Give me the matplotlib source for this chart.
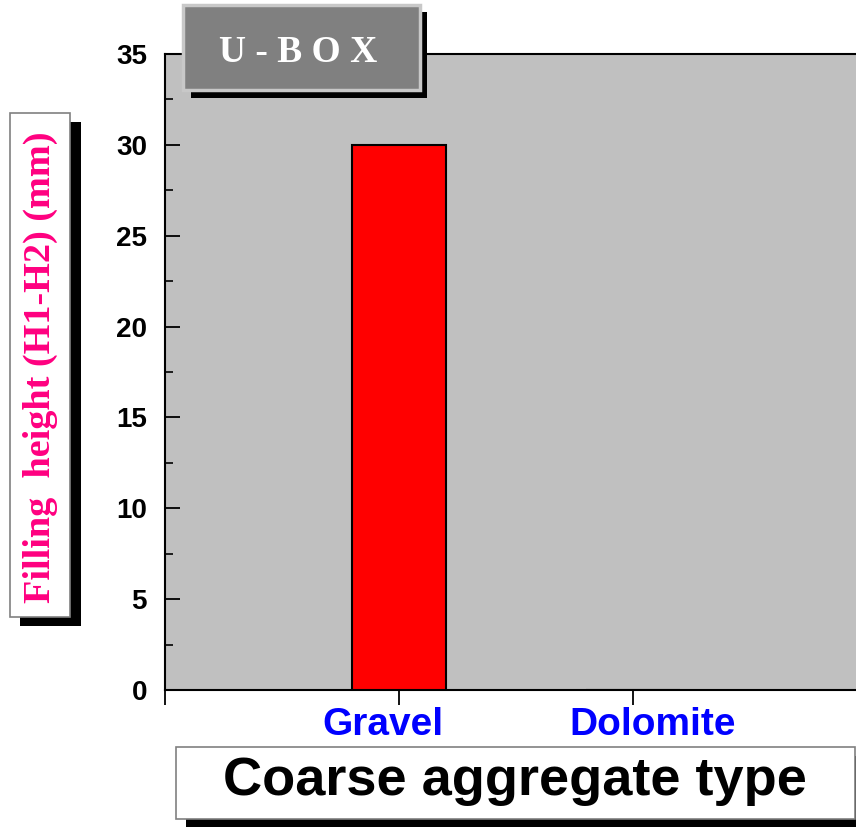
import numpy as np
import matplotlib
matplotlib.use('Agg')
import matplotlib.pyplot as plt
import matplotlib.transforms as mtransforms
from matplotlib.patches import Rectangle

# data
categories = ['Gravel', 'Dolomite']
filling_height = [30, 0]
y_ticks = [0, 5, 10, 15, 20, 25, 30, 35]

W, H = 856, 827
fig = plt.figure(figsize=(W / 100, H / 100), dpi=100)
fig.patch.set_facecolor('white')

def fbox(x0, y0, x1, y1, **kw):
    # rectangle given in pixel coords (top-left origin)
    r = Rectangle((x0 / W, 1 - y1 / H), (x1 - x0) / W, (y1 - y0) / H,
                  transform=fig.transFigure, **kw)
    fig.add_artist(r)
    return r

ax = fig.add_axes([165 / W, 1 - 690 / H, 702 / W, 636 / H])
ax.set_facecolor('#C0C0C0')

x = np.arange(1, len(categories) + 1)
ax.bar(x, filling_height, width=0.4, color='#FF0000', edgecolor='black', linewidth=1.5, zorder=3)

ax.set_xlim(0, 3)
ax.set_ylim(0, 35)
ax.set_yticks(y_ticks)
ax.set_yticks(np.arange(2.5, 35, 5), minor=True)
ax.set_xticks([0] + list(x) + [3])
ax.set_xticklabels([''] + categories + [''])

for s in ax.spines.values():
    s.set_linewidth(1.5)

ax.tick_params(axis='y', which='major', direction='in', length=11, width=1.3, pad=13,
               labelsize=20)
ax.tick_params(axis='y', which='minor', direction='in', length=6, width=1.2)
ax.tick_params(axis='x', direction='out', length=11, width=1.3, pad=1,
               labelsize=28, labelcolor='#0000FF')
for lab in ax.get_yticklabels() + ax.get_xticklabels():
    lab.set_fontweight('bold')
    lab.set_fontfamily('Liberation Sans')

# nudge category labels like the original
shifts = [0, -16, 20, 0]
for lab, dx in zip(ax.get_xticklabels(), shifts):
    lab.set_transform(lab.get_transform() +
                      mtransforms.ScaledTranslation(dx / 100, 0, fig.dpi_scale_trans))

# title box
fbox(191, 12, 427, 98, facecolor='black', edgecolor='none', zorder=5)
fbox(183, 5, 420, 90, facecolor='#808080', edgecolor='#C8C8C8', linewidth=2.5, zorder=6)
fig.text(298 / W, 1 - 52 / H, 'U - B O X', color='white', fontsize=27, fontweight='bold',
         family='Liberation Serif', ha='center', va='center', zorder=7)

# y label box
fbox(20, 122, 81, 626, facecolor='black', edgecolor='none', zorder=5)
fbox(10, 113, 70, 617, facecolor='white', edgecolor='#808080', linewidth=1.2, zorder=6)
fig.text(40 / W, 1 - 367 / H, 'Filling  height (H1-H2) (mm)', color='#FF0080', fontsize=27.5,
         fontweight='bold', family='Liberation Serif', rotation=90,
         ha='center', va='center', zorder=7)

# x label box
fbox(186, 756, 866, 828, facecolor='black', edgecolor='none', zorder=5)
fbox(176, 747, 855, 819, facecolor='white', edgecolor='#808080', linewidth=1.2, zorder=6)
fig.text(515 / W, 1 - 781 / H, 'Coarse aggregate type', color='black', fontsize=39,
         fontweight='bold', family='Liberation Sans', ha='center', va='center', zorder=7)

fig.savefig('out.png', dpi=100)
